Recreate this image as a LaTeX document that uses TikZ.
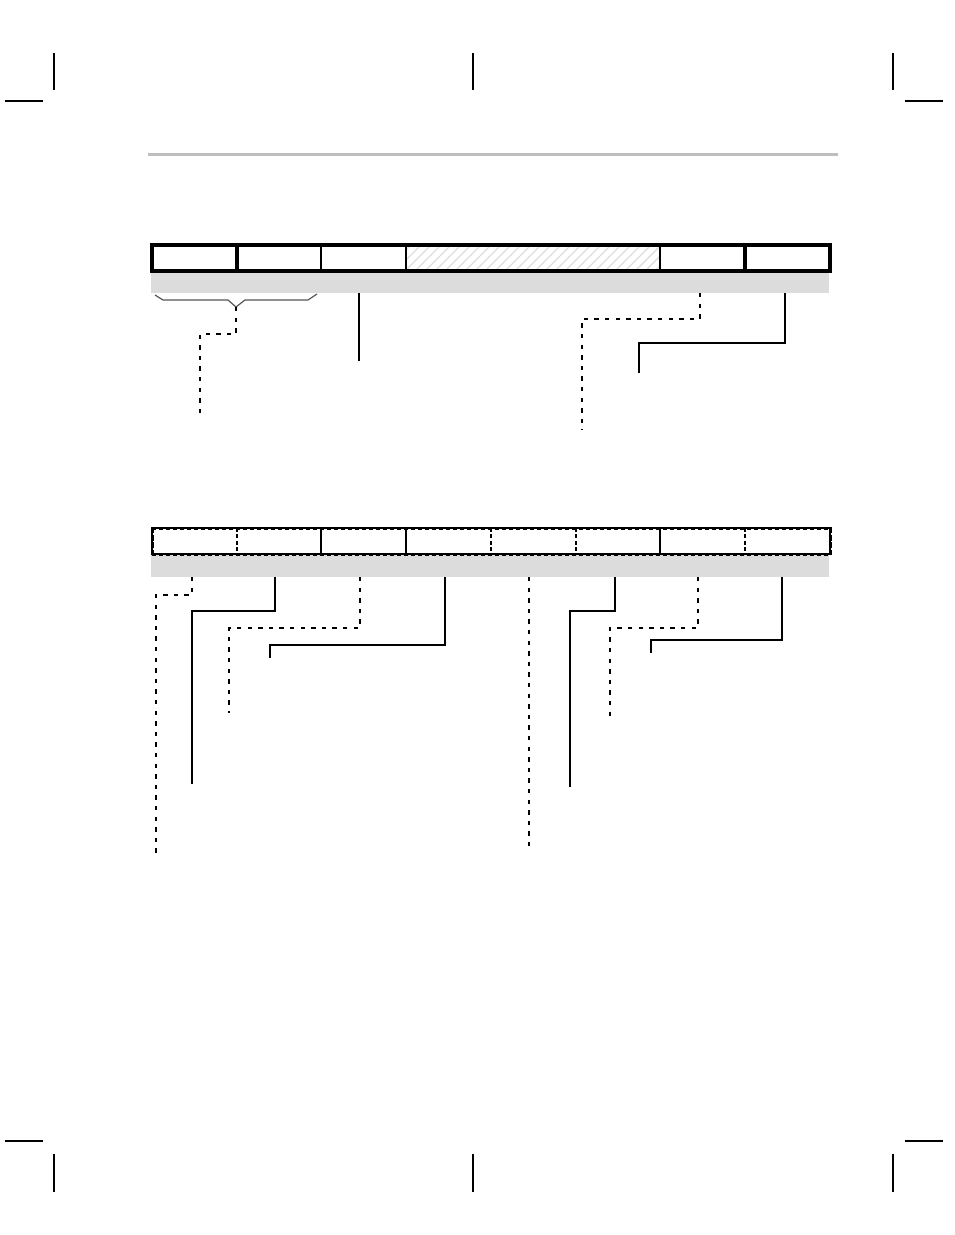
\documentclass[tikz,border=0pt]{standalone}
\usetikzlibrary{calc}
\definecolor{band}{HTML}{DCDCDC}
\definecolor{rulegray}{HTML}{BEBEBE}
\definecolor{hatch}{HTML}{DDDDDD}
\definecolor{bracegray}{HTML}{555555}
\begin{document}
\begin{tikzpicture}[x=0.5pt,y=-0.5pt,
  crop/.style={line width=0.65pt,black},
  conn/.style={line width=0.65pt,black},
  dconn/.style={line width=0.65pt,black,dash pattern=on 2.2pt off 3.1pt},
  thickedge/.style={line width=1.7pt,black},
  thindiv/.style={line width=0.6pt,black},
  dashedge/.style={line width=1.5pt,black,dash pattern=on 2.2pt off 1.3pt},
  dashdiv/.style={line width=0.8pt,black,dash pattern=on 2pt off 1.2pt},
  bandfill/.style={fill=band,draw=none}]
\useasboundingbox (0,0) rectangle (954,1235);

% crop marks
\draw[crop] (54,53) -- (54,90);
\draw[crop] (5,101) -- (43,101);
\draw[crop] (473,53) -- (473,90);
\draw[crop] (893,53) -- (893,90);
\draw[crop] (905,101) -- (943,101);
\draw[crop] (5,1141) -- (43,1141);
\draw[crop] (54,1154) -- (54,1192);
\draw[crop] (473,1154) -- (473,1192);
\draw[crop] (905,1141) -- (943,1141);
\draw[crop] (893,1154) -- (893,1192);

% header rule
\draw[rulegray,line width=1.5pt] (148,155) -- (838,155);

% ===== Register 1 =====
\fill[band] (151,271) rectangle (829,293);
\begin{scope}
  \clip (406,246) rectangle (660,270);
  \foreach \i in {-30,-20,...,290} {
    \draw[hatch,line width=0.7pt] (406+\i,270) -- (406+\i+25,245);
  }
\end{scope}
\draw[thindiv] (321,245) -- (321,271);
\draw[thindiv] (406,245) -- (406,271);
\draw[thindiv] (660,245) -- (660,271);
\draw[thickedge] (237,245) -- (237,271);
\draw[thickedge] (745,245) -- (745,271);
\draw[thickedge] (152,245) rectangle (830,271);

% brace
\coordinate (brL) at (155,295);
\coordinate (brT) at (236,307);
\coordinate (brR) at (317,294);
\draw[bracegray,line width=0.6pt] (brL) -- (163,300) -- (228,300) -- (brT) -- (245,300) -- (308,300) -- (brR);

% register 1 connectors
\coordinate (a1e) at (200,413);
\draw[dconn] (brT) |- (a1e |- 0,334) -- (a1e);

\coordinate (a2s) at (359,293);
\coordinate (a2e) at (359,361);
\draw[conn] (a2s) -- (a2e);

\coordinate (a3s) at (700,293);
\coordinate (a3e) at (582,430);
\draw[dconn] (a3s) |- (582,319) -- (a3e);

\coordinate (a4s) at (785,293);
\coordinate (a4e) at (639,373);
\draw[conn] (a4s) |- (639,343) -- (a4e);

% ===== Register 2 =====
\fill[band] (151,554) rectangle (829,577);
\draw[thindiv] (152,528) rectangle (830,554);
\draw[thindiv] (321,528) -- (321,554);
\draw[thindiv] (406,528) -- (406,554);
\draw[thindiv] (660,528) -- (660,554);
\foreach \x in {237,491,576,745} {
  \draw[dashdiv] (\x,528) -- (\x,554);
}
\draw[dashedge] (152,528) -- (830,528);
\draw[dashedge] (152,554) -- (830,554);
\draw[line width=1.5pt,black,dash pattern=on 3pt off 0.8pt] (152,527) -- (152,555);
\draw[line width=1.5pt,black,dash pattern=on 3pt off 0.8pt] (830,527) -- (830,555);

% register 2 connectors
\coordinate (b1s) at (192,577);
\coordinate (b1e) at (156,853);
\draw[dconn] (b1s) |- (156,595) -- (b1e);

\coordinate (b2s) at (275,577);
\coordinate (b2e) at (192,784);
\draw[conn] (b2s) |- (192,611) -- (b2e);

\coordinate (b3s) at (360,577);
\coordinate (b3e) at (229,713);
\draw[dconn] (b3s) |- (229,628) -- (b3e);

\coordinate (b4s) at (445,577);
\coordinate (b4e) at (270,658);
\draw[conn] (b4s) |- (270,645) -- (b4e);

\coordinate (b5s) at (529,577);
\coordinate (b5e) at (529,847);
\draw[dconn] (b5s) -- (b5e);

\coordinate (b6s) at (615,577);
\coordinate (b6e) at (570,787);
\draw[conn] (b6s) |- (570,611) -- (b6e);

\coordinate (b7s) at (698,577);
\coordinate (b7e) at (610,717);
\draw[dconn] (b7s) |- (610,628) -- (b7e);

\coordinate (b8s) at (782,577);
\coordinate (b8e) at (651,653);
\draw[conn] (b8s) |- (651,640) -- (b8e);
\end{tikzpicture}
\end{document}
